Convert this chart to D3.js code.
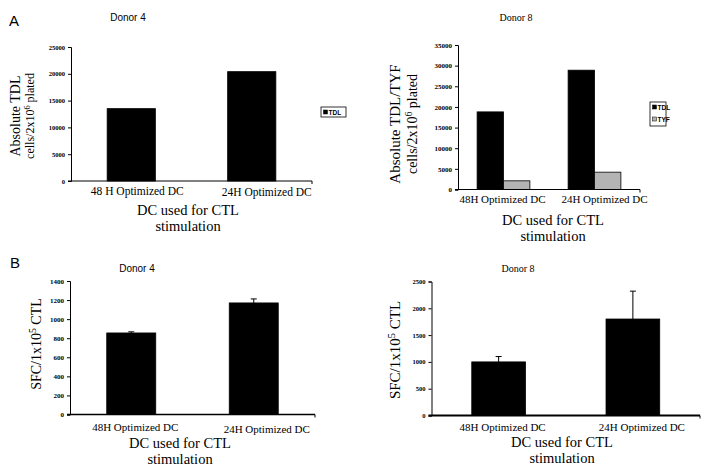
<!DOCTYPE html>
<html><head><meta charset="utf-8">
<script src="https://cdn.jsdelivr.net/npm/d3@7"></script>
<style>body{margin:0;background:#fff}svg{display:block}</style>
</head><body>
<svg id="c" width="709" height="475"></svg>
<script>
// ---- data ----
const labelsA4 = ["48 H Optimized DC", "24H Optimized DC"];
const labelsOther = ["48H Optimized DC", "24H Optimized DC"];
const donor4TDL = [13500, 20400];
const donor8TDL = [18800, 28900];
const donor8TYF = [2100, 4200];
const donor4SFC = [855, 1170];
const donor4SFCErr = [12, 42];
const donor8SFC = [1000, 1800];
const donor8SFCErr = [100, 520];
const ticksA4 = [0, 5000, 10000, 15000, 20000, 25000];
const ticksA8 = [0, 5000, 10000, 15000, 20000, 25000, 30000, 35000];
const ticksB4 = [0, 200, 400, 600, 800, 1000, 1200, 1400];
const ticksB8 = [0, 500, 1000, 1500, 2000, 2500];
const seriesNames = ["TDL", "TYF"];

const svg = d3.select("#c");
const SERIF = "'Liberation Serif','Times New Roman',serif";
const SANS = "'Liberation Sans',Arial,sans-serif";

function drawPanel(p) {
  const g = svg.append("g");
  const y = d3.scaleLinear().domain([0, p.ticks[p.ticks.length - 1]]).range([p.y0, p.yTop]);
  const x = d3.scaleBand().domain(p.labels).range([p.x0, p.x1]).paddingInner(p.pi).paddingOuter(p.po);
  const sub = d3.scaleBand().domain(d3.range(p.series.length)).range([0, x.bandwidth()]);

  // bars
  p.series.forEach((s, si) => {
    g.selectAll(null).data(s.values).enter().append("rect")
      .attr("x", (d, i) => x(p.labels[i]) + sub(si))
      .attr("y", d => y(d))
      .attr("width", sub.bandwidth())
      .attr("height", d => p.y0 - y(d))
      .attr("fill", s.color).attr("stroke", "#000").attr("stroke-width", 0.8);
    if (s.err) {
      s.values.forEach((v, i) => {
        const cx = x(p.labels[i]) + sub(si) + sub.bandwidth() / 2;
        g.append("line").attr("x1", cx).attr("x2", cx).attr("y1", y(v)).attr("y2", y(v + s.err[i]))
          .attr("stroke", "#000").attr("stroke-width", 1);
        g.append("line").attr("x1", cx - 3).attr("x2", cx + 3).attr("y1", y(v + s.err[i])).attr("y2", y(v + s.err[i]))
          .attr("stroke", "#000").attr("stroke-width", 1);
      });
    }
  });

  // y axis
  const ya = d3.axisLeft(y).tickValues(p.ticks).tickSize(3).tickPadding(3).tickFormat(d3.format("d"));
  const yg = g.append("g").attr("transform", `translate(${p.x0},0)`).call(ya);
  yg.select(".domain").attr("stroke-width", 1);
  yg.selectAll("text").attr("font-family", SERIF).attr("font-size", p.tickFs).attr("font-weight", "bold").attr("fill", "#000");
  // x axis line
  g.append("line").attr("x1", p.x0 - 3).attr("x2", p.x1).attr("y1", p.y0).attr("y2", p.y0)
    .attr("stroke", "#000").attr("stroke-width", p.xw || 1);
  g.append("line").attr("x1", p.x1).attr("x2", p.x1).attr("y1", p.y0).attr("y2", p.y0 + 3)
    .attr("stroke", "#000").attr("stroke-width", 1);

  // category labels
  p.labels.forEach((l, i) => {
    g.append("text").attr("x", x(l) + x.bandwidth() / 2 + p.labelDx[i]).attr("y", p.labelY[i])
      .attr("text-anchor", "middle").attr("font-family", SERIF).attr("font-size", p.labelFs).text(l);
  });
  // x title
  g.append("text").attr("x", p.xtX).attr("y", p.xtY).attr("text-anchor", "middle")
    .attr("font-family", SERIF).attr("font-size", 14.5).text("DC used for CTL");
  g.append("text").attr("x", p.xtX).attr("y", p.xtY + 16).attr("text-anchor", "middle")
    .attr("font-family", SERIF).attr("font-size", 14.5).text("stimulation");
  // title
  g.append("text").attr("x", p.tX).attr("y", p.tY).attr("text-anchor", "middle")
    .attr("font-family", p.tFont).attr("font-size", 10).text(p.title);
  // y titles
  p.yTitles.forEach(t => {
    const tt = g.append("text").attr("transform", `translate(${t.x},${t.y}) rotate(-90)`)
      .attr("text-anchor", "middle").attr("font-family", SERIF).attr("font-size", t.fs);
    t.parts.forEach(pt => {
      const ts = tt.append("tspan").text(pt.t);
      if (pt.sup) ts.attr("baseline-shift", "super").attr("font-size", t.fs * 0.7);
    });
  });
  return {x, y};
}

// Panel A, Donor 4
drawPanel({
  labels: labelsA4, x0: 71, x1: 312, y0: 181, yTop: 47, ticks: ticksA4, pi: 0.6, po: 0.3,
  series: [{values: donor4TDL, color: "#000"}], tickFs: 6.5, labelFs: 11.5,
  labelDx: [6, 15], labelY: [195, 196], xtX: 188, xtY: 215,
  title: "Donor 4", tX: 128, tY: 21, tFont: SANS,
  yTitles: [
    {x: 20, y: 116, fs: 14, parts: [{t: "Absolute TDL"}]},
    {x: 34, y: 116, fs: 12, parts: [{t: "cells/2x10"}, {t: "6", sup: true}, {t: " plated"}]}
  ]
});
// Panel A, Donor 8
drawPanel({
  labels: labelsOther, x0: 458, x1: 640, y0: 189.5, yTop: 45, ticks: ticksA8, pi: 0.42, po: 0.21,
  series: [{values: donor8TDL, color: "#000"}, {values: donor8TYF, color: "#b4b4b4"}], tickFs: 7, labelFs: 11,
  labelDx: [-1, 10], labelY: [203, 203], xtX: 553, xtY: 225,
  title: "Donor 8", tX: 516, tY: 21, tFont: SERIF,
  yTitles: [
    {x: 400, y: 124, fs: 15, parts: [{t: "Absolute TDL/TYF"}]},
    {x: 417, y: 124, fs: 14, parts: [{t: "cells/2x10"}, {t: "6", sup: true}, {t: " plated"}]}
  ]
});
// Panel B, Donor 4
drawPanel({
  labels: labelsOther, x0: 70, x1: 315, y0: 414.5, yTop: 281, ticks: ticksB4, pi: 0.6, po: 0.3,
  series: [{values: donor4SFC, color: "#000", err: donor4SFCErr}], tickFs: 7, labelFs: 11,
  labelDx: [4, 13], labelY: [431, 433], xtX: 180, xtY: 448,
  title: "Donor 4", tX: 137, tY: 272, tFont: SANS, xw: 1.3,
  yTitles: [
    {x: 41, y: 344, fs: 14, parts: [{t: "SFC/1x10"}, {t: "5", sup: true}, {t: " CTL"}]}
  ]
});
// Panel B, Donor 8
drawPanel({
  labels: labelsOther, x0: 431.5, x1: 700, y0: 415.5, yTop: 281.5, ticks: ticksB8, pi: 0.6, po: 0.3,
  series: [{values: donor8SFC, color: "#000", err: donor8SFCErr}], tickFs: 6.5, labelFs: 11,
  labelDx: [4, 9], labelY: [431, 431], xtX: 562, xtY: 447,
  title: "Donor 8", tX: 518, tY: 272, tFont: SERIF, xw: 1.8,
  yTitles: [
    {x: 400, y: 350, fs: 15, parts: [{t: "SFC/1x10"}, {t: "5", sup: true}, {t: " CTL"}]}
  ]
});

// panel letters
svg.append("text").attr("x", 9).attr("y", 26).attr("font-family", SANS).attr("font-size", 15).text("A");
svg.append("text").attr("x", 10).attr("y", 268).attr("font-family", SANS).attr("font-size", 15).text("B");

// legends
function legend(x, y, w, h, items) {
  const g = svg.append("g");
  g.append("rect").attr("x", x).attr("y", y).attr("width", w).attr("height", h)
    .attr("fill", "#fff").attr("stroke", "#000").attr("stroke-width", 0.8);
  g.selectAll(null).data(items).enter().append("rect")
    .attr("x", x + 2.5).attr("y", (d, i) => y + 3 + i * 12).attr("width", 4).attr("height", 4)
    .attr("fill", d => d.color).attr("stroke", "#000").attr("stroke-width", 0.5);
  g.selectAll(null).data(items).enter().append("text")
    .attr("x", x + 7.5).attr("y", (d, i) => y + 7.5 + i * 12)
    .attr("font-family", SANS).attr("font-size", 6.5).attr("font-weight", "bold").text(d => d.name);
}
legend(321, 107, 25, 10, [{name: seriesNames[0], color: "#000"}]);
legend(650, 102, 16, 24, [{name: seriesNames[0], color: "#000"}, {name: seriesNames[1], color: "#b4b4b4"}]);
</script>
</body></html>
